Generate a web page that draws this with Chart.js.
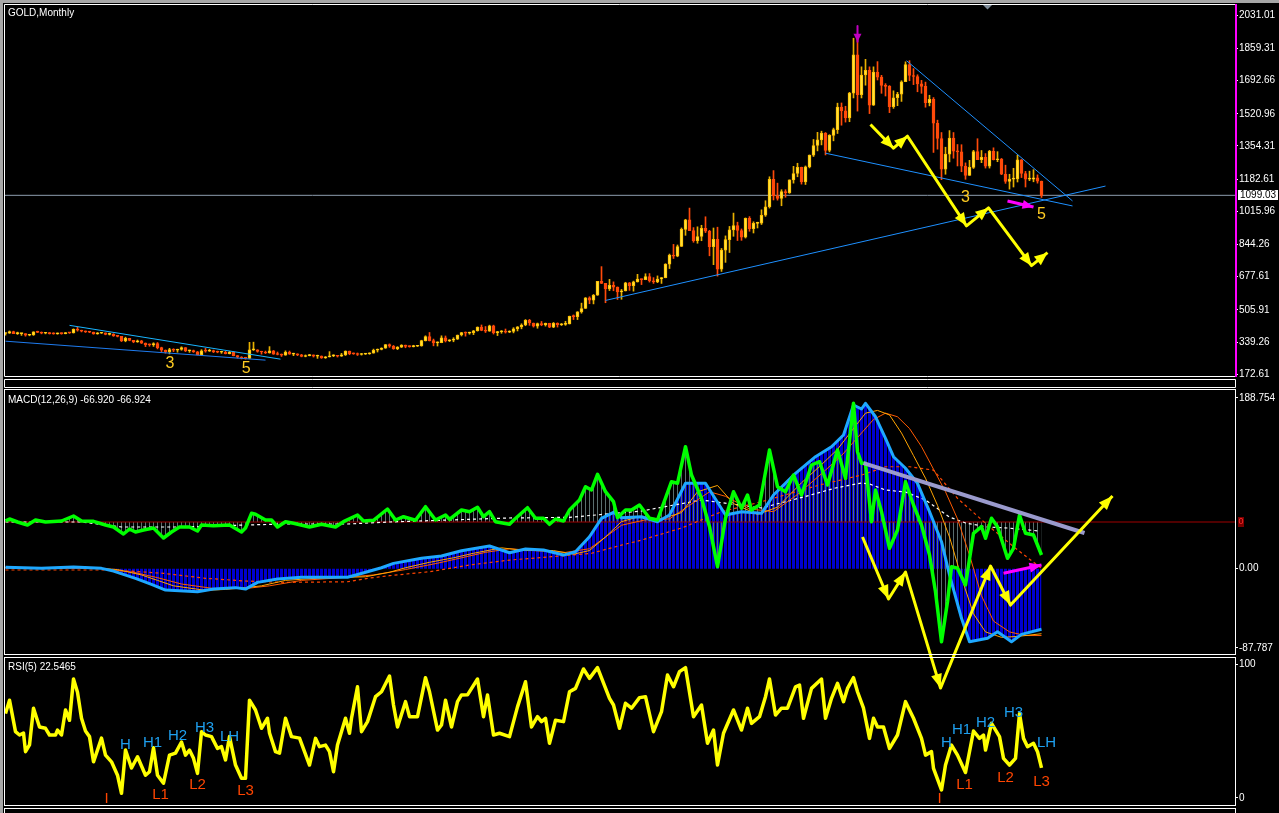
<!DOCTYPE html>
<html>
<head>
<meta charset="utf-8">
<title>GOLD,Monthly</title>
<script src="https://cdn.jsdelivr.net/npm/chart.js@4.4.1/dist/chart.umd.min.js"></script>
<style>
  html, body { margin: 0; padding: 0; background: #000; overflow: hidden; }
  #wrap { position: relative; width: 1279px; height: 813px; }
  #wrap canvas { position: absolute; left: 0; top: 0; }
</style>
</head>
<body>
<div id="wrap">
  <canvas id="priceChart" width="1279" height="813"></canvas>
  <canvas id="macdChart" width="1279" height="813"></canvas>
  <canvas id="rsiChart" width="1279" height="813"></canvas>
</div>
<script>
// monthly bars, oldest first
const opens = [384,386,394,383,383,383,375,376,392,390,
  385,387,383,382,384,383,388,387,405,401,
  396,392,391,382,385,387,379,380,371,369,
  345,359,348,340,346,334,326,325,332,311,
  297,290,301,297,301,311,294,296,289,273,
  294,292,295,288,287,287,280,287,269,261,
  256,255,299,299,291,288,283,294,277,275,
  272,288,277,277,273,265,269,273,266,267,
  258,263,268,271,266,273,293,279,278,275,
  277,279,282,297,301,308,327,318,305,313,
  324,317,316,318,320,347,368,347,335,337,
  361,346,349,355,376,388,386,388,398,417,
  400,396,424,388,393,396,391,394,408,418,
  428,452,438,422,435,428,436,416,437,429,
  431,433,473,471,496,513,569,556,582,654,
  643,614,633,624,599,604,646,632,651,665,
  663,679,656,651,666,673,743,790,784,834,
  923,972,916,864,886,928,913,833,871,717,
  815,870,920,942,917,883,980,927,954,955,
  996,1040,1182,1096,1083,1118,1113,1179,1212,1244,
  1169,1246,1307,1357,1386,1421,1332,1409,1439,1556,
  1536,1500,1628,1826,1620,1722,1746,1566,1737,1711,
  1668,1663,1558,1604,1622,1687,1776,1719,1714,1676,
  1663,1579,1596,1472,1393,1234,1312,1395,1328,1324,
  1250,1202,1244,1326,1284,1296,1250,1327,1283,1287,
  1208,1171,1183,1184,1283,1212,1183,1183,1190,1172];
const highs = [387,397,396,391,384,383,380,393,396,392,
  390,389,388,387,387,389,390,408,416,401,
  397,395,391,389,390,387,386,383,374,369,
  365,359,348,350,348,335,330,336,337,313,
  299,307,305,303,315,311,298,298,291,300,
  307,302,298,293,292,292,291,290,270,264,
  261,338,339,300,292,293,316,296,288,278,
  294,293,282,279,276,273,276,273,272,268,
  265,290,274,271,281,294,293,283,283,281,
  281,284,303,304,310,327,330,322,316,326,
  324,320,323,322,349,372,389,355,341,372,
  371,352,362,376,390,392,391,400,418,428,
  420,427,427,395,399,407,398,414,420,434,
  456,457,438,438,446,438,437,441,439,436,
  447,474,480,497,541,570,574,586,654,730,
  643,664,651,625,612,649,648,655,690,666,
  693,694,673,682,674,745,795,845,842,930,
  975,1033,932,936,944,988,918,930,934,824,
  889,938,1007,960,925,982,989,962,960,1024,
  1071,1195,1227,1162,1128,1128,1179,1249,1265,1245,
  1251,1308,1388,1425,1431,1424,1413,1447,1576,1577,
  1560,1632,1912,1920,1764,1803,1764,1764,1791,1720,
  1677,1667,1640,1632,1692,1790,1796,1755,1723,1694,
  1685,1617,1605,1488,1424,1348,1434,1424,1362,1361,
  1267,1280,1332,1392,1331,1315,1332,1345,1325,1290,
  1255,1208,1239,1307,1284,1223,1224,1232,1205,1173];
const lows = [375,384,383,379,374,370,372,374,388,382,
  382,381,380,380,380,382,384,386,396,392,
  389,388,380,380,384,377,376,369,366,342,
  341,346,336,338,332,316,318,317,304,290,
  282,278,290,287,297,290,286,286,273,272,
  287,291,285,284,281,278,278,268,257,252,
  251,253,296,287,277,280,282,276,273,265,
  271,276,269,269,263,263,268,262,255,255,
  255,262,264,262,265,270,274,276,270,272,
  275,276,282,288,299,307,312,302,300,311,
  310,313,314,316,318,345,345,320,319,336,
  340,342,341,353,371,370,380,378,396,398,
  389,395,381,373,385,386,388,387,397,408,
  424,426,417,411,424,422,414,414,417,425,
  426,433,456,456,489,513,538,537,581,642,
  543,606,605,560,561,604,607,603,650,637,
  662,650,643,647,643,672,720,772,781,834,
  892,919,856,851,864,906,786,740,681,705,
  752,803,887,865,866,878,913,904,930,948,
  990,1033,1075,1074,1045,1089,1109,1162,1195,1157,
  1155,1241,1300,1329,1360,1308,1324,1381,1419,1462,
  1478,1480,1603,1535,1603,1669,1522,1564,1696,1627,
  1613,1527,1549,1563,1585,1687,1692,1672,1635,1627,
  1555,1562,1321,1338,1180,1208,1272,1291,1251,1221,
  1182,1202,1238,1284,1268,1240,1240,1282,1273,1206,
  1161,1131,1142,1168,1191,1142,1175,1169,1162,1088];
const closes = [386,394,383,383,383,375,376,392,390,385,
  387,383,382,384,383,388,387,405,401,396,
  392,391,382,385,387,379,380,371,369,345,
  359,348,340,346,334,326,325,332,311,297,
  290,301,297,301,311,294,296,289,273,294,
  292,295,288,287,287,280,287,269,261,256,
  255,299,299,291,288,283,294,277,275,272,
  288,277,277,273,265,269,273,266,267,258,
  263,268,271,266,273,293,279,278,275,277,
  279,282,297,301,308,327,318,305,313,324,
  317,316,318,320,347,368,347,335,337,361,
  346,349,355,376,388,386,388,398,417,400,
  396,424,388,393,396,391,394,408,418,428,
  452,438,422,435,428,436,416,437,429,431,
  433,473,471,496,513,569,556,582,654,643,
  614,633,624,599,604,646,632,651,665,663,
  679,656,651,666,673,743,790,784,834,923,
  972,916,864,886,928,913,833,871,717,815,
  870,920,942,917,883,980,927,954,955,996,
  1040,1182,1096,1083,1118,1113,1179,1212,1244,1169,
  1246,1307,1357,1386,1421,1332,1409,1439,1556,1536,
  1500,1628,1826,1620,1722,1746,1566,1737,1711,1668,
  1663,1558,1604,1622,1687,1776,1719,1714,1676,1663,
  1579,1596,1472,1393,1234,1312,1395,1328,1324,1250,
  1202,1244,1326,1284,1296,1250,1327,1283,1287,1208,
  1171,1183,1184,1283,1212,1183,1183,1190,1172,1099];

const priceTicks = [2031.01, 1859.31, 1692.66, 1520.96, 1354.31, 1182.61, 1015.96, 844.26, 677.61, 505.91, 339.26, 172.61];
const lastPrice = 1099.03;

// MACD(12,26,9) window, read at turning points (bar index, value)
const macdBars = [0, 9, 17, 24, 27, 32.5, 36.5, 40, 48, 52, 57.5, 60, 63, 68, 74, 85.5, 88.5, 94, 97, 104,
  109, 114, 121, 126, 130, 134.5, 139.5, 142.5, 146, 149, 152, 154, 159, 163, 166, 170, 175, 180, 184, 189,
  192, 197.5, 202.5, 206.5, 209.5, 212, 214, 215, 217.5, 220, 222, 225, 228, 231, 234, 236, 239, 241, 245.5, 248,
  251.5, 254, 259];
const macdValues = [1.4, 0.3, 1.8, 0.3, -2.7, -10.7, -17.4, -23.7, -25.5, -22.6, -21, -22.6, -15.2, -11.5, -9.6, -9.6, -6, 1, 5.8, 11.4,
  14, 19.8, 25, 17.6, 21.7, 20.6, 15, 18.7, 35.3, 55.6, 62.3, 56.3, 57.4, 51.9, 59.3, 94.4, 94.4, 59.3, 63, 61.2,
  81.4, 105.4, 123.8, 134.8, 147.8, 181, 176.6, 182.9, 168, 144.1, 123.8, 111, 94.4, 63, 29.8, -7, -55, -80.8, -77, -69.8,
  -80.8, -72.7, -67];
const sig1Bars = [0, 12, 20, 28, 34, 38, 42, 50, 55, 60, 64, 70, 78, 90, 96, 100, 106, 112, 117, 124,
  130, 137, 142, 146, 150, 154, 158, 164, 169, 173, 178, 182, 188, 193, 199, 204, 208, 212, 215, 218,
  221, 224, 227, 230, 233, 236, 239, 242, 245, 249, 253, 259];
const sig1Values = [1, 0.8, 1.5, -1, -7, -13, -19, -24, -23, -21, -19, -13, -10.5, -9, -4, 1, 7, 12, 17, 23,
  20, 20, 16, 20, 35, 52, 57, 55, 62, 85, 92, 72, 60, 68, 95, 115, 132, 155, 172, 175,
  170, 150, 125, 100, 70, 35, -10, -50, -70, -76, -75, -72];
const sig2Bars = [0, 14, 24, 32, 38, 44, 52, 60, 66, 74, 84, 92, 100, 108, 114, 120, 126, 132, 140, 146,
  150, 154, 160, 166, 171, 176, 180, 186, 192, 198, 204, 209, 213, 217, 220, 223, 226, 229, 232, 235,
  238, 241, 244, 247, 251, 255, 259];
const sig2Values = [1, 0.8, 0, -4, -10, -17, -22, -22, -19, -13, -10, -7, -1, 6, 12, 18, 22, 20, 18, 22,
  35, 48, 54, 55, 70, 85, 80, 66, 63, 82, 105, 125, 145, 165, 172, 168, 155, 135, 110, 85,
  55, 15, -30, -58, -70, -74, -74];
const slowBars = [0, 27, 39.5, 50, 60, 70, 85.5, 90.5, 96, 106, 116, 126, 136.5, 146.5, 154, 159, 169, 179, 189, 203.5,
  214, 220, 226, 232, 238, 245.5, 252.5, 259];
const slowValues = [-1.5, -1.5, -5.2, -10.7, -13.7, -15.2, -14.5, -10.7, -7.8, -3.4, 4, 9.5, 13.2, 17, 26, 31.6, 44.9, 63, 74, 92.5,
  103.5, 112.7, 112.7, 109, 77.8, 48.2, 22.5, 0.3];

// second oscillator in the MACD window, centred on its own red zero line
const greenBars = [0, 1, 3, 5.5, 7.5, 10, 14, 17, 19, 22, 25, 27, 29.5, 31, 32.5, 34.5, 37, 39.5, 41.5, 43.5,
  46, 48, 49, 52, 56, 59, 60, 61.5, 62.5, 65, 66.5, 68, 70, 72, 76, 79, 82.5, 84.5, 88, 89.5,
  92, 95.5, 97.5, 99.5, 102.5, 105, 107.5, 110, 111, 114, 116, 118, 119.5, 121, 122.5, 126, 127, 130.5, 132.5, 134.5,
  136, 137.5, 139.5, 141, 143.5, 145, 146.5, 148, 150, 152, 153, 155, 156.5, 158.5, 161, 163, 166.5, 168, 170, 171.5,
  174, 176, 178, 180, 182, 184, 185.5, 186.5, 188.5, 191, 193, 195, 197, 199, 201.5, 203.5, 205.5, 208, 210, 212,
  213, 214, 215, 216.5, 217.5, 219, 221, 223, 225, 227, 229, 231, 232.5, 234, 235.5, 236.5, 238, 240, 242, 244,
  245, 246.5, 248, 250.5, 252, 253.5, 255, 257, 259];
const greenValues = [1, 3, 0, -3, 2, 0, 1, 6, 1, 0.7, -3, -5, -12, -7, -10, -8, -6, -16, -10, -5,
  -5, -9, -3, -3.7, -3, -10, -6, 8.7, 7.7, 2, 2, -5, 0.3, -1.3, -5, -2.3, -5, 0.3, 7, 1,
  1.7, 13, 2, 5.3, 1.7, 15.3, 2, 7, 2.7, 12, 10.3, 14.7, 5.3, 10.3, 0.3, -2.3, 1.7, 14.3, 3.7, 3.7,
  -2.3, 3, 1, 12, 22, 35.3, 32, 47.7, 30.3, 20.3, 4.3, 12, 12, 17, 3.7, 2, 40.3, 38.7, 75.3, 47,
  23.7, -4.7, -44.7, 3.7, 30.3, 13.7, 27, 12, 17, 72, 35.3, 30.3, 47, 27, 57, 60.3, 37, 72, 43.7, 118.7,
  70.3, 58.7, 58.7, 0.3, 32, 10.3, -26.3, -8, 40.3, 17, -3, -33, -69.7, -119.7, -79.7, -44.7, -46.3, -63, -11.3, -4.7,
  -16.3, 3.7, -4.7, -36.3, -26.3, 7, -11.3, -13, -33];
const whiteBars = [0, 19, 29, 45, 60, 70, 85.5, 96, 111, 126, 141, 159, 174, 189, 199.5, 207.5, 214, 216, 220, 225,
  230, 236, 240, 245.5, 250.5, 258.5];
const whiteValues = [0, 0, -5, -5, -3, -2, -2, 0, 2, 4, 4.7, 11, 22, 14, 25, 34, 39, 38, 32, 30,
  22, 5, -1, -5, -6, -9];

const macdTicks = [188.754, 0, -87.787];
const macdTickText = ['188.754', '0.00', '-87.787'];

// RSI(5) window
const rsiBars = [0, 1, 2.5, 3.5, 4.5, 5, 6, 7, 8.5, 10, 11, 12.5, 13, 14, 15, 16, 17, 18, 19, 20,
  21, 22, 24, 25, 26.5, 28, 29, 30, 31.5, 33, 35, 36, 37, 38, 39.5, 41, 42.5, 44, 45, 46,
  47, 48, 49, 50, 51.5, 53, 54, 55, 56, 57.5, 59, 60, 61, 62.5, 64, 65.5, 66, 67.5, 68.5, 70,
  71.5, 73.5, 76, 77.5, 78.5, 80, 81, 82, 83, 85, 86, 86.5, 88, 89, 90.5, 92.5, 94, 96, 97, 98,
  100, 101, 103, 105, 106, 108, 109, 110, 111.5, 113, 114, 115.5, 118, 119.5, 120.5, 122, 123.5, 126, 128, 130,
  131.5, 133, 134, 135, 136, 137.5, 139.5, 141, 142.5, 144.5, 146, 148, 151, 152, 153.5, 155, 156.5, 158.5, 160, 162,
  164, 165.5, 167, 168.5, 170, 172, 174, 175.5, 177, 178, 179.5, 182, 184, 185.5, 186.5, 188.5, 190, 191, 192.5, 194,
  195.5, 197.5, 198.5, 199.5, 201.5, 204, 205, 206.5, 208, 209.5, 210.5, 212, 213, 214.5, 216, 217, 218, 219.5, 221, 223,
  225, 227, 229, 230, 231.5, 232, 234, 235, 236.5, 238, 240, 242, 243.5, 244.5, 245, 246.5, 248.5, 249.5, 251, 252.5,
  253.5, 254.5, 255.5, 257, 258, 259];
const rsiValues = [63, 73, 49.5, 47, 48.5, 34.6, 39.6, 67, 53, 52, 47, 47, 50.7, 47, 65.7, 58, 88.8, 79, 59.5, 50,
  45.8, 27, 44.7, 32, 27, 17, 3.5, 35.8, 22.4, 30.8, 17, 19.6, 37.5, 17, 11, 32, 33.5, 41.8, 32, 35.8,
  29.6, 18.4, 49.5, 47, 45.8, 37, 38.3, 28.4, 45.8, 24.6, 14.7, 14.7, 73, 65.7, 52, 59.5, 48.5, 34.6, 33.5, 59.5,
  45.8, 44.7, 24.6, 44.5, 38.3, 39.5, 34.6, 19.6, 39.5, 59.5, 48.3, 59.5, 83, 49.5, 57, 75.6, 79.3, 91, 69.4, 53,
  71.9, 60.7, 60.7, 89.8, 79.3, 50.7, 54.5, 73, 53, 71.9, 76.9, 77, 88.8, 60.7, 76.9, 47, 48.3, 45.8, 68, 86.8,
  53, 60.7, 57, 59.5, 40.8, 58, 57, 79.3, 81.8, 96.3, 89.3, 97.3, 74.4, 69.4, 52, 70.7, 67, 74.9, 75.6, 49.5,
  64.4, 91.8, 83, 94.3, 97.3, 60.7, 69.4, 40.8, 50.7, 24.6, 48.3, 65.7, 50.7, 67, 55.7, 60.7, 75.6, 88.8, 61.9, 67,
  67, 83, 84.3, 59.5, 81.8, 88.8, 59.5, 74.4, 85.6, 71.9, 81.8, 89.8, 79.3, 67, 44.5, 59.5, 53, 53, 37, 47,
  71.9, 59.5, 44.5, 32, 34.6, 22.1, 6, 24.6, 39.5, 32, 19, 50, 44.5, 47, 35.8, 55.7, 45.8, 29.6, 24.6, 29.6,
  63, 44.5, 38.3, 40.8, 34.6, 22.5];
const rsiTicks = [100, 0];

// wave marks and text objects (bar index, value)
const waveText = ['3', '5', '3', '5'];
const waveBars = [41.1, 60.2, 240, 259];
const wavePrices = [225.6, 199.9, 1087, 1001.4];
const rsiNoteText = ['H', 'H1', 'H2', 'H3', 'LH', 'L1', 'L2', 'L3', 'I', 'H', 'H1', 'H2', 'H3', 'LH', 'L1', 'L2', 'L3', 'I'];
const rsiNoteBars = [30, 36.75, 43, 49.75, 56, 38.75, 48, 60, 25.25, 235.25, 239, 245, 252, 260.25, 239.75, 250, 259, 233.5];
const rsiNoteValues = [39.6, 41, 46.3, 52.2, 45.5, 2.2, 9.7, 5.2, -1, 41, 50.7, 56, 63.4, 41, 9.7, 14.9, 11.9, -1];

Chart.defaults.font.family = "'Liberation Sans', Arial, sans-serif";
Chart.defaults.elements.point.radius = 0;
Chart.defaults.elements.point.hoverRadius = 0;
Chart.defaults.elements.line.tension = 0;
Chart.defaults.elements.line.borderJoinStyle = 'round';

const X_MIN = -0.125, X_MAX = 307.375;
const pts = (xs, ys) => xs.map((x, i) => ({ x: x, y: ys[i] }));

function xAxis() {
  return { type: 'linear', min: X_MIN, max: X_MAX, offset: false, display: false, bounds: 'data' };
}
function rightAxis(min, max, ticks, text) {
  return {
    type: 'linear', position: 'right', min: min, max: max, bounds: 'data', beginAtZero: false,
    afterFit: s => { s.width = 44; },
    afterBuildTicks: s => { s.ticks = ticks.map(v => ({ value: v })); },
    grid: { drawOnChartArea: false, drawTicks: true, tickLength: 3, color: '#ffffff' },
    border: { display: false },
    ticks: { color: '#ffffff', padding: 1, autoSkip: false, font: { size: 10 }, callback: v => text(v) }
  };
}
function line(xs, ys, color, width, extra) {
  return Object.assign({ type: 'line', data: pts(xs, ys), borderColor: color, borderWidth: width, fill: false }, extra || {});
}
function stripes(color, cols) {
  const c = document.createElement('canvas');
  c.width = 4; c.height = 1;
  const g = c.getContext('2d');
  g.fillStyle = color;
  cols.forEach(i => g.fillRect(i, 0, 1, 1));
  return g.createPattern(c, 'repeat');
}
const baseOptions = (pad, scales, plugins) => ({
  responsive: false, maintainAspectRatio: false, animation: false, events: [],
  layout: { autoPadding: false, padding: pad },
  plugins: Object.assign({ legend: { display: false }, tooltip: { enabled: false } }, plugins || {}),
  scales: scales
});

const arrowHeads = {
  id: 'arrowHeads',
  afterDatasetsDraw(chart) {
    const ctx = chart.ctx;
    chart.data.datasets.forEach((ds, i) => {
      if (!ds.arrow) return;
      const p = chart.getDatasetMeta(i).data;
      const len = ds.arrow[0], half = ds.arrow[1];
      ctx.save();
      ctx.fillStyle = ds.borderColor;
      for (let k = 1; k < p.length; k++) {
        const a = Math.atan2(p[k].y - p[k - 1].y, p[k].x - p[k - 1].x);
        const bx = p[k].x - len * Math.cos(a), by = p[k].y - len * Math.sin(a);
        ctx.beginPath();
        ctx.moveTo(p[k].x, p[k].y);
        ctx.lineTo(bx + half * Math.sin(a), by - half * Math.cos(a));
        ctx.lineTo(bx - half * Math.sin(a), by + half * Math.cos(a));
        ctx.closePath();
        ctx.fill();
      }
      ctx.restore();
    });
  }
};
function notes(id, items) {
  return {
    id: id,
    afterDatasetsDraw(chart) {
      const { ctx, scales } = chart;
      ctx.save();
      ctx.textAlign = 'center';
      ctx.textBaseline = 'middle';
      items.forEach(n => {
        ctx.font = n.font;
        ctx.fillStyle = n.color;
        ctx.fillText(n.text, scales.x.getPixelForValue(n.bar), scales.y.getPixelForValue(n.value));
      });
      ctx.restore();
    }
  };
}

// ---------------- price window ----------------
const bull = i => closes[i] >= opens[i];
const priceFrame = {
  id: 'priceFrame',
  afterDraw(chart) {
    const ctx = chart.ctx;
    ctx.save();
    ctx.fillStyle = '#a6a6a6';
    ctx.fillRect(0, 0, 1279, 3);
    ctx.fillRect(0, 0, 3, 813);
    ctx.strokeStyle = '#ffffff';
    ctx.lineWidth = 1;
    ctx.beginPath();
    ctx.moveTo(1235, 4.5); ctx.lineTo(4.5, 4.5); ctx.lineTo(4.5, 376.5); ctx.lineTo(1235, 376.5);
    ctx.rect(4.5, 379.5, 1231, 8);
    ctx.stroke();
    ctx.fillStyle = '#ff00ff';
    ctx.fillRect(1235, 4, 2, 373);
    // chart shift marker
    ctx.fillStyle = '#7f8c99';
    ctx.beginPath();
    ctx.moveTo(983, 5); ctx.lineTo(992, 5); ctx.lineTo(987.5, 9.5); ctx.closePath(); ctx.fill();
    ctx.font = '10px "Liberation Sans", Arial, sans-serif';
    ctx.textBaseline = 'middle';
    ctx.fillStyle = '#ffffff';
    ctx.fillText('GOLD,Monthly', 8, 13);
    const py = chart.scales.y.getPixelForValue(lastPrice);
    ctx.fillRect(1238, Math.round(py) - 5, 40, 10);
    ctx.fillStyle = '#000000';
    ctx.fillText(lastPrice.toFixed(2), 1240, Math.round(py));
    ctx.restore();
  }
};
const priceNotes = waveText.map((t, i) => ({ text: t, bar: waveBars[i], value: wavePrices[i], color: '#FFCC22', font: '16px "Liberation Sans", Arial, sans-serif' }));

new Chart(document.getElementById('priceChart'), {
  type: 'bar',
  data: {
    datasets: [
      line([X_MIN, X_MAX], [lastPrice, lastPrice], '#8E9DAE', 1, { order: 12 }),
      {
        data: opens.map((o, i) => ({ x: i, y: [lows[i], highs[i]] })),
        barThickness: 1, grouped: false, borderWidth: 0, order: 11,
        backgroundColor: c => bull(c.dataIndex) ? '#E8B000' : '#FF4A0A'
      },
      {
        data: opens.map((o, i) => ({ x: i, y: [Math.min(o, closes[i]), Math.max(o, closes[i])] })),
        barThickness: 3, grouped: false, minBarLength: 1, borderWidth: 1, borderSkipped: false, order: 10,
        backgroundColor: c => bull(c.dataIndex) ? '#FFE23A' : '#FF4A0A',
        borderColor: c => bull(c.dataIndex) ? '#FFBE00' : '#FF4A0A'
      },
      line([150, 275], [555, 1147], '#1E90FF', 1, { order: 5 }),
      line([205, 266.75], [1317, 1044], '#1E90FF', 1, { order: 5 }),
      line([225.25, 266.75], [1796, 1070], '#1E90FF', 1, { order: 5 }),
      line([0, 65], [344, 246], '#1E7BEF', 1, { order: 5 }),
      line([16, 68.75], [426, 251], '#19B5FF', 1, { order: 5 }),
      line([216.25, 222, 225.5, 240.25, 245.75, 256.5, 260.5], [1466, 1343, 1405, 941, 1034, 735, 802], '#FFFF00', 3, { order: 2, arrow: [13, 5.5] }),
      line([250.5, 257], [1070, 1039], '#FF00FF', 3, { order: 1, arrow: [11, 4.5] }),
      line([213, 213], [1976, 1894], '#C000C0', 2, { order: 1, arrow: [8, 4] })
    ]
  },
  options: baseOptions({ left: 5, top: 5, right: 0, bottom: 437 }, {
    x: xAxis(),
    y: rightAxis(163.86, 2073.74, priceTicks, v => v.toFixed(2))
  }),
  plugins: [arrowHeads, notes('priceNotes', priceNotes), priceFrame]
});

// ---------------- MACD window ----------------
const macdFrame = {
  id: 'macdFrame',
  afterDraw(chart) {
    const ctx = chart.ctx;
    ctx.save();
    ctx.strokeStyle = '#ffffff';
    ctx.lineWidth = 1;
    ctx.strokeRect(4.5, 389.5, 1231, 265);
    ctx.fillStyle = '#7a0000';
    ctx.fillRect(1238, 517, 6, 10);
    ctx.font = '9px "Liberation Sans", Arial, sans-serif';
    ctx.textBaseline = 'middle';
    ctx.fillStyle = '#ff2a2a';
    ctx.fillText('0', 1238.5, 522);
    ctx.font = '10px "Liberation Sans", Arial, sans-serif';
    ctx.fillStyle = '#ffffff';
    ctx.fillText('MACD(12,26,9) -66.920 -66.924', 8, 400);
    ctx.restore();
  }
};

new Chart(document.getElementById('macdChart'), {
  type: 'line',
  data: {
    datasets: [
      line(macdBars, macdValues, 'rgba(0,0,0,0)', 1, { fill: 'origin', backgroundColor: stripes('#0000D2', [0, 1, 2]), order: 20 }),
      line(greenBars, greenValues, 'rgba(0,0,0,0)', 1, { yAxisID: 'y2', fill: { value: 0 }, backgroundColor: stripes('#5a6e6e', [1]), order: 19 }),
      line([X_MIN, X_MAX], [0, 0], '#A00000', 1, { yAxisID: 'y2', order: 18 }),
      line(whiteBars, whiteValues, '#ffffff', 1.2, { yAxisID: 'y2', borderDash: [3, 3], order: 17 }),
      line(slowBars, slowValues, '#FF4500', 1.2, { borderDash: [3, 3], order: 16 }),
      line(sig2Bars, sig2Values, '#FF5A00', 1, { order: 15 }),
      line(sig1Bars, sig1Values, '#FFA500', 1, { order: 14 }),
      line(macdBars, macdValues, '#1EA8FF', 3, { order: 13 }),
      line(greenBars, greenValues, '#00FF00', 3.5, { yAxisID: 'y2', order: 12 }),
      line([214.5, 269.75], [116.8, 39.4], '#9A9ACD', 4, { order: 3 }),
      line([249.5, 259], [-5.2, 4], '#FF00FF', 3, { order: 2, arrow: [12, 5] }),
      line([214.25, 220.75, 225, 233.75, 246.25, 251.25, 276.75], [35, -33.6, -3.8, -132.1, 2.9, -40.3, 80.3], '#FFFF00', 3, { order: 1, clip: false, arrow: [14, 5.5] })
    ]
  },
  options: baseOptions({ left: 5, top: 390, right: 0, bottom: 159 }, {
    x: xAxis(),
    y: rightAxis(-94.424, 197.603, macdTicks, v => macdTickText[macdTicks.indexOf(v)]),
    y2: { type: 'linear', display: false, min: -132, max: 132, bounds: 'data' }
  }),
  plugins: [arrowHeads, macdFrame]
});

// ---------------- RSI window ----------------
const rsiFrame = {
  id: 'rsiFrame',
  afterDraw(chart) {
    const ctx = chart.ctx;
    ctx.save();
    ctx.strokeStyle = '#ffffff';
    ctx.lineWidth = 1;
    ctx.strokeRect(4.5, 657.5, 1231, 148);
    ctx.strokeRect(4.5, 808.5, 1231, 8);
    ctx.font = '10px "Liberation Sans", Arial, sans-serif';
    ctx.textBaseline = 'middle';
    ctx.fillStyle = '#ffffff';
    ctx.fillText('RSI(5) 22.5465', 8, 667);
    ctx.restore();
  }
};
const rsiNotes = rsiNoteText.map((t, i) => ({
  text: t, bar: rsiNoteBars[i], value: rsiNoteValues[i],
  color: t.indexOf('H') >= 0 ? '#1EA0F0' : '#FF4500',
  font: '15px "Liberation Sans", Arial, sans-serif'
}));

new Chart(document.getElementById('rsiChart'), {
  type: 'line',
  data: {
    datasets: [
      line(rsiBars, rsiValues, '#FFFF00', 3.5, { order: 1 })
    ]
  },
  options: baseOptions({ left: 5, top: 658, right: 0, bottom: 8 }, {
    x: xAxis(),
    y: rightAxis(-5.224, 104.478, rsiTicks, v => String(v))
  }),
  plugins: [notes('rsiNotes', rsiNotes), rsiFrame]
});
</script>
</body>
</html>
